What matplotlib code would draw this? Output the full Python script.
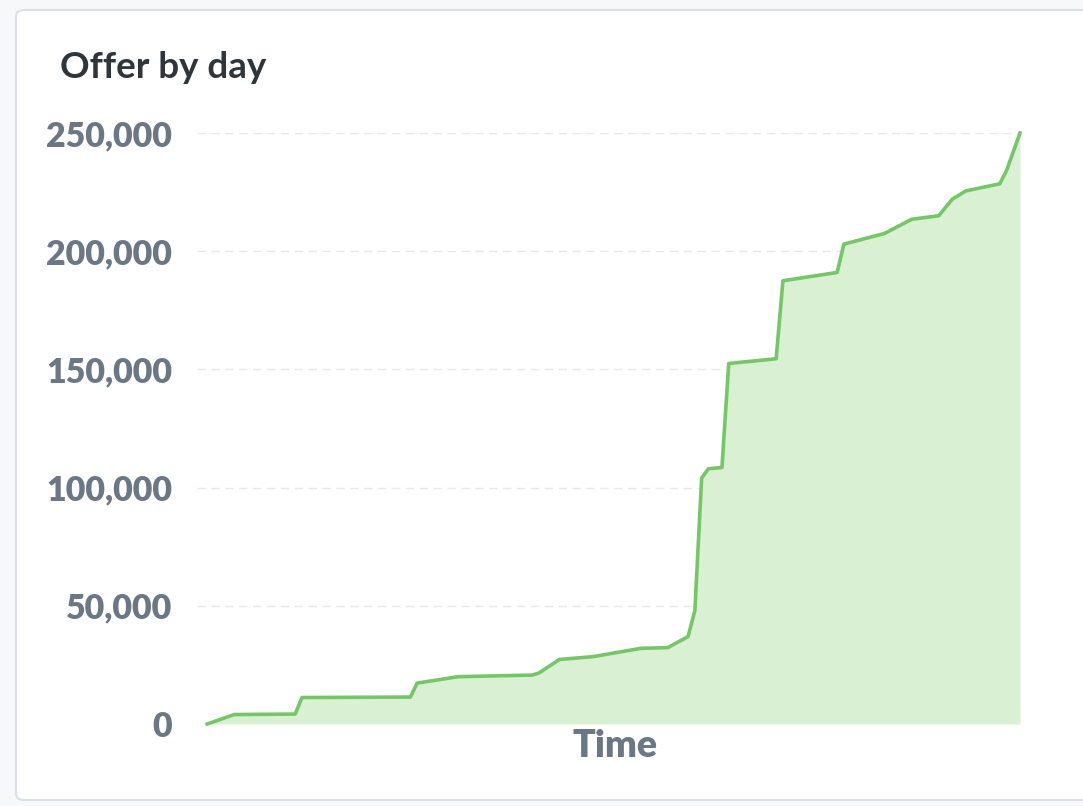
import matplotlib.pyplot as plt
from matplotlib.patches import FancyBboxPatch
from matplotlib.ticker import FuncFormatter

# cumulative offer (day index -> value)
days = [0, 4, 13, 14, 30, 31, 37, 48, 49, 52, 57, 64, 68, 71, 72, 73, 74, 76,
        77, 84, 85, 93, 94, 100, 102, 104, 108, 110, 112, 117, 118, 120]
offer = [0, 4000, 4200, 11200, 11400, 17300, 20000, 20700, 21600, 27300,
         28500, 32000, 32300, 37000, 48000, 104000, 108000, 108500, 152500,
         154500, 187500, 191000, 203000, 207500, 210500, 213500, 215000,
         222000, 225500, 228500, 234000, 250000]
yticks = [0, 50000, 100000, 150000, 200000, 250000]

plt.rcParams['font.family'] = ['Lato', 'DejaVu Sans']

fig = plt.figure(figsize=(10.83, 8.06), dpi=100)
fig.patch.set_facecolor('#f6f8fa')

# card
card = FancyBboxPatch((16 / 1083, 6 / 806), 1100 / 1083, 790 / 806,
                      boxstyle='round,pad=0,rounding_size=0.008',
                      transform=fig.transFigure, facecolor='white',
                      edgecolor='#dcdfe3', linewidth=1.5, zorder=-5)
fig.patches.append(card)

fig.text(60 / 1083, 1 - 68 / 806, 'Offer by day', fontsize=26.5, fontweight='bold',
         color='#2e353b', va='center', ha='left')

ax = fig.add_axes([197 / 1083, 1 - 724 / 806, (1020 - 197) / 1083, (724 - 133) / 806])
ax.set_facecolor('none')

ax.fill_between(days, offer, 0, color='#d9f0d3', linewidth=0, zorder=1)
ax.plot(days, offer, color='#74c765', linewidth=2.6, solid_joinstyle='round',
        clip_on=False, zorder=3)

ax.set_xlim(-1.5, 120)
ax.set_ylim(0, 250000)
ax.set_yticks(yticks)
ax.yaxis.set_major_formatter(FuncFormatter(lambda v, p: f'{int(v):,}'))
ax.set_xticks([])
for lbl in ax.get_yticklabels():
    lbl.set_fontweight('heavy')
ax.tick_params(axis='y', length=0, pad=18, labelsize=24.5, labelcolor='#6c7785')

for v in yticks[1:]:
    ax.axhline(v, color='#e6e8eb', linewidth=1, linestyle=(0, (6, 4)), zorder=0)

for s in ax.spines.values():
    s.set_visible(False)

ax.set_xlabel('Time', fontsize=27, fontweight='heavy', color='#6c7785')
ax.xaxis.set_label_coords((615 - 197) / (1020 - 197), -0.008)
ax.xaxis.label.set_va('top')

fig.savefig('out.png', dpi=100)
